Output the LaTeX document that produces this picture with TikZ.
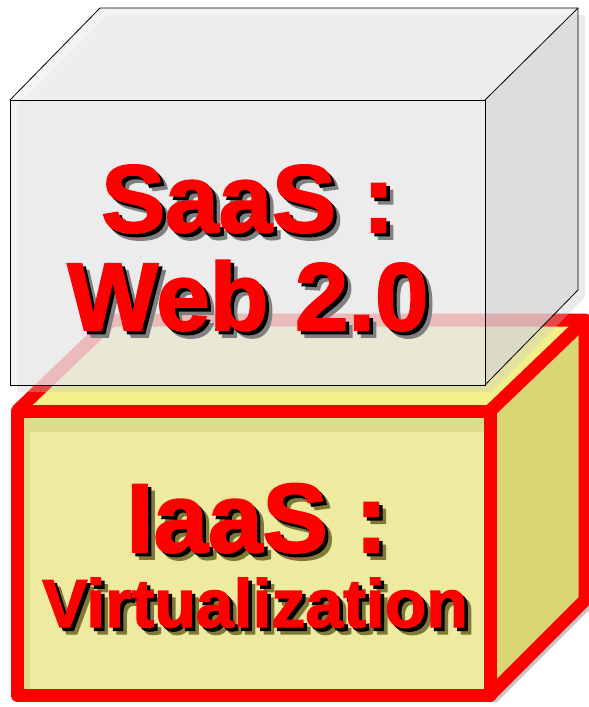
\documentclass[tikz,border=0pt]{standalone}
\usepackage{fontspec}
\setmainfont{Liberation Sans}[BoldFeatures={FakeBold=2}]
\definecolor{layerred}{HTML}{FF0000}
\definecolor{iaasfront}{HTML}{EEEBA0}
\definecolor{iaastop}{HTML}{F3F08A}
\definecolor{iaasside}{HTML}{D9D674}
\definecolor{iaasrim}{HTML}{DEDB8C}
\definecolor{saasfront}{HTML}{ECECEC}
\definecolor{saastop}{HTML}{F0F0F0}
\definecolor{saasside}{HTML}{D8D8D8}
\definecolor{castgrey}{HTML}{C6C6C6}
\definecolor{olive}{HTML}{807A38}

% red label with a black and a coloured drop shadow
\newcommand{\layerlabel}[6]{%
\node [anchor=base, font=\fontsize{#4}{#4}\selectfont\bfseries, text=#5] at (#2+7,#3+7) {#6};
\node [anchor=base, font=\fontsize{#4}{#4}\selectfont\bfseries, text=black] at (#2+3.5,#3+3.5) {#6};
\node [anchor=base, font=\fontsize{#4}{#4}\selectfont\bfseries, text=layerred] (#1) at (#2,#3) {#6};}

\begin{document}
\begin{tikzpicture}[x=1pt, y=-1pt]
\useasboundingbox (0,0) rectangle (589,707);
% IaaS layer
\fill [castgrey] (24,418) -- (497,418) -- (592,327) -- (592,607) -- (497,702) -- (24,702) -- cycle;
\fill [iaasfront] (17,411) rectangle (490,695);
\fill [iaasrim] (17,411) rectangle (490,432);
\fill [iaasrim] (17,411) rectangle (30,695);
\fill [iaastop] (17,411) -- (112,320) -- (585,320) -- (490,411) -- cycle;
\fill [iaasside] (490,411) -- (585,320) -- (585,600) -- (490,695) -- cycle;
\draw [layerred, line width=13pt, line join=round] (17,411) rectangle (490,695);
\draw [layerred, line width=13pt, line join=round] (17,411) -- (112,320) -- (585,320) -- (585,600) -- (490,695);
\draw [layerred, line width=13pt, line join=round] (490,411) -- (585,320);
% SaaS layer
\fill [castgrey, opacity=.35] (17,107) -- (107,15) -- (585,15) -- (585,297) -- (492,392) -- (17,392) -- cycle;
\fill [saasfront, opacity=.7] (10,100) rectangle (485,385);
\fill [saastop, opacity=.7] (10,100) -- (100,8) -- (578,8) -- (485,100) -- cycle;
\fill [saasside, opacity=.7] (485,100) -- (578,8) -- (578,290) -- (485,385) -- cycle;
\draw [black, line width=.8pt, line join=round] (10,100) rectangle (485,385);
\draw [black, line width=.8pt, line join=round] (10,100) -- (100,8) -- (578,8) -- (578,290) -- (485,385);
\draw [black, line width=.8pt] (485,100) -- (578,8);
% labels
\layerlabel{saas}{248}{232}{96}{gray}{SaaS :}
\layerlabel{web}{248}{330}{96}{gray}{Web 2.0}
\layerlabel{iaas}{257}{552}{98}{olive}{IaaS :}
\layerlabel{virt}{255}{627}{68}{olive}{Virtualization}
\end{tikzpicture}
\end{document}
